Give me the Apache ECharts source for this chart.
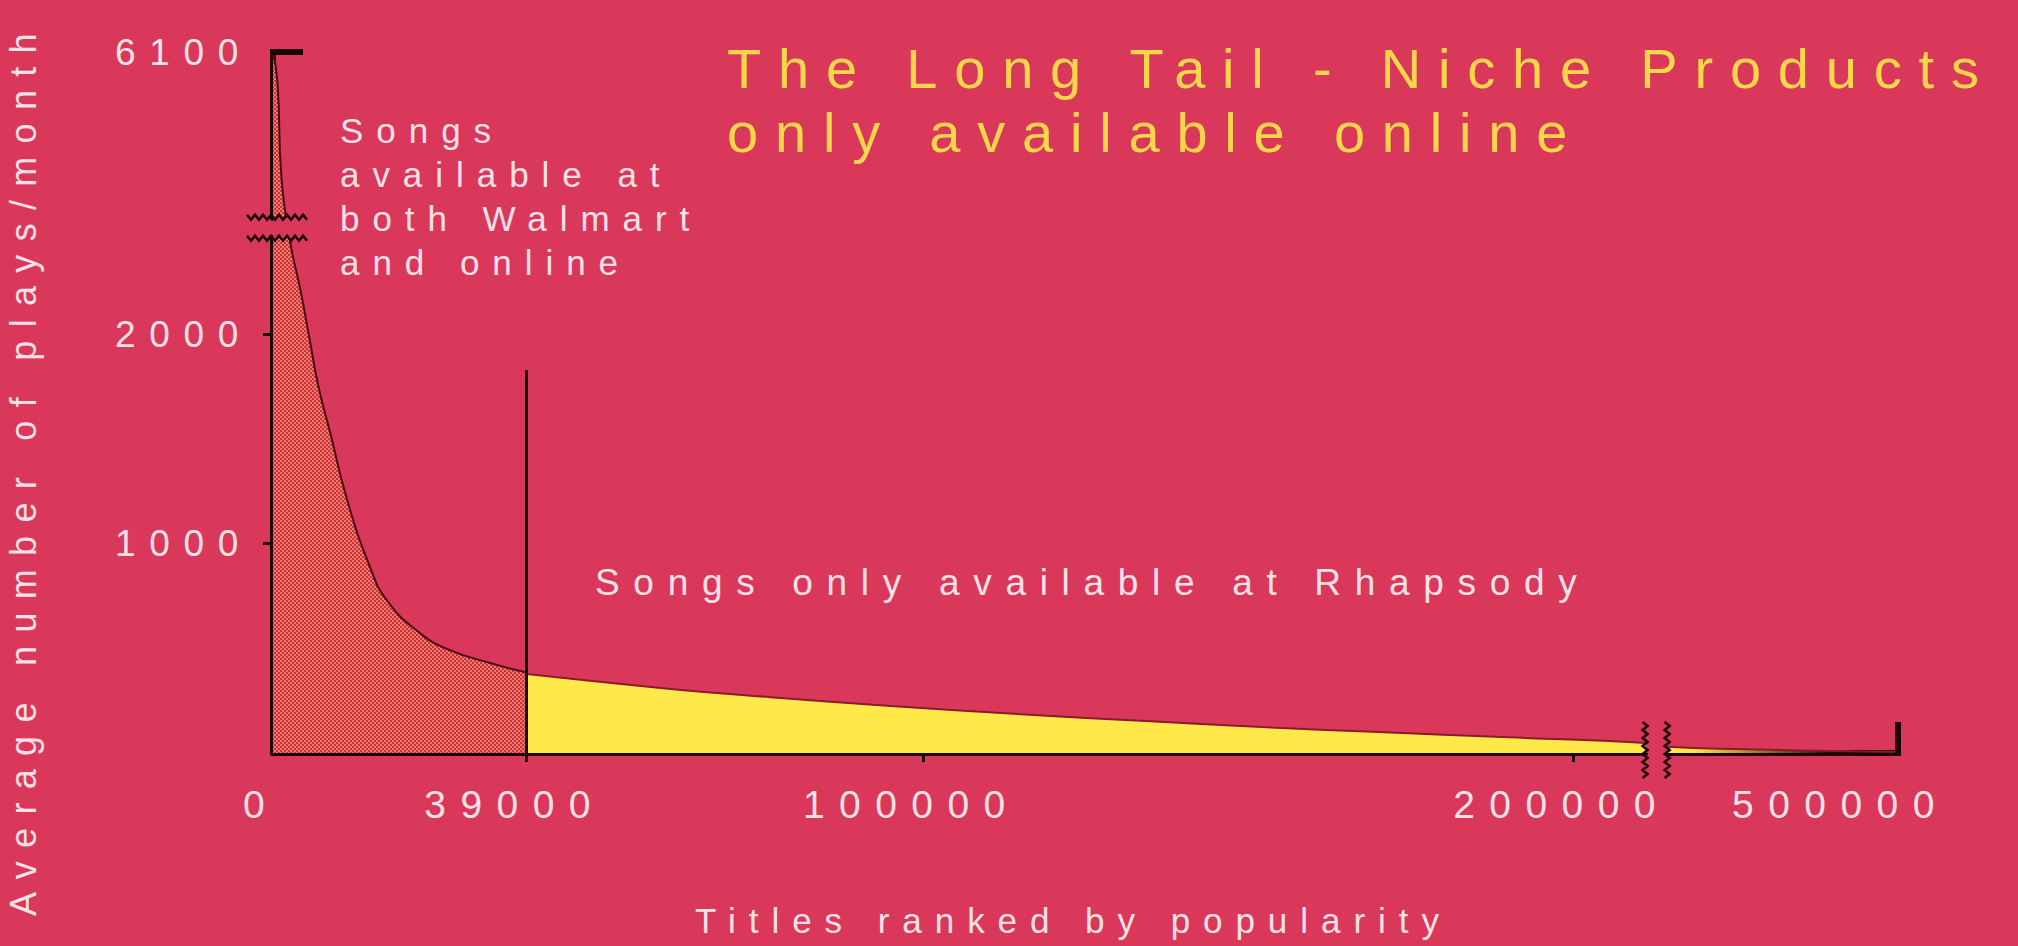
<!DOCTYPE html>
<html>
<head>
<meta charset="utf-8">
<script src="https://cdn.jsdelivr.net/npm/echarts@6/dist/echarts.min.js"></script>
<style>
html,body{margin:0;padding:0;background:#d9385a;overflow:hidden;}
#chart{width:2018px;height:946px;}
#chart text{letter-spacing:0.37em;}
#chart text[style*="56px"]{letter-spacing:0.3em;}
</style>
</head>
<body>
<div id="chart"></div>
<script>
// ---- data ----
const rankHead  = [0, 700, 1300, 2600, 4300, 5500, 7000, 8800, 11400, 14900, 17500, 22600, 27200, 33400, 39000];
const playsHead = [6100, 5950, 5500, 2450, 2200, 2000, 1750, 1530, 1210, 890, 730, 573, 492, 430, 385];
const rankTail  = [39000, 60000, 76500, 95000, 115000, 135000, 152000, 170000, 190000, 211000, 471500, 484000, 500000, 507000];
const playsTail = [377, 310, 267, 225, 185, 152, 124, 100, 75, 48, 30, 18, 8, 5];
const xLabelValues = [0, 39000, 100000, 200000, 500000];
const xTickValues = [39000, 100000, 200000];
const yLabelValues = [1000, 2000, 6100];
const yTickValues = [1000, 2000];
const xBreak = {start: 211000, end: 471500, gap: 3400};
const yBreak = {start: 2460, end: 5310, gap: 100};
const xMax = 507000;
const yMax = 6100;
const dividerRank = 39000;
const dividerTop = 1830;
const titleLines = ['The Long Tail - Niche Products', 'only available online'];
const noteHead = ['Songs', 'available at', 'both Walmart', 'and online'];
const noteTail = 'Songs only available at Rhapsody';
const xName = 'Titles ranked by popularity';
const yName = 'Average number of plays/month';

// ---- styles ----
const BG = '#d9385a';
const INK = '#1a0507';
const PALE = '#fbe1e7';
const GOLD = '#f7d64c';
const FONT = '"Liberation Sans", Arial, sans-serif';

const pat = document.createElement('canvas');
pat.width = 4; pat.height = 4;
const pc = pat.getContext('2d');
pc.fillStyle = '#c8323f'; pc.fillRect(0, 0, 4, 4);
pc.fillStyle = '#f47a68'; pc.fillRect(0, 0, 2, 2); pc.fillRect(2, 2, 2, 2);

const chart = echarts.init(document.getElementById('chart'), null, {renderer: 'svg'});

chart.setOption({
  animation: false,
  backgroundColor: BG,
  grid: {left: 273, right: 120, top: 52, bottom: 193, containLabel: false, outerBoundsMode: 'none'},
  xAxis: {
    type: 'value', min: 0, max: xMax,
    breaks: [xBreak],
    breakArea: {show: true, expandOnClick: false, zigzagAmplitude: 0,
      itemStyle: {color: BG, borderWidth: 0, opacity: 1}},
    axisLine: {show: true, onZero: false, lineStyle: {color: INK, width: 6}},
    axisTick: {show: true, customValues: xTickValues, length: 9, lineStyle: {color: INK, width: 3}},
    axisLabel: {show: true, customValues: xLabelValues, margin: 32, color: PALE, fontSize: 39, fontFamily: FONT,
      padding: [0, 24, 0, 0], formatter: v => String(v)},
    splitLine: {show: false}
  },
  yAxis: {
    type: 'value', min: 0, max: yMax,
    breaks: [yBreak],
    breakArea: {show: true, expandOnClick: false, zigzagAmplitude: 0,
      itemStyle: {color: BG, borderWidth: 0, opacity: 1}},
    axisLine: {show: true, onZero: false, lineStyle: {color: INK, width: 6}},
    axisTick: {show: true, customValues: yTickValues, length: 10, lineStyle: {color: INK, width: 3}},
    axisLabel: {show: true, customValues: yLabelValues, margin: 21, color: PALE, fontSize: 37, fontFamily: FONT,
      formatter: v => String(v)},
    splitLine: {show: false}
  },
  series: [
    {
      type: 'line', name: 'head', z: 3,
      data: rankHead.map((r, i) => [r, playsHead[i]]),
      smooth: true, symbol: 'none',
      lineStyle: {color: '#4a0c16', width: 2},
      areaStyle: {color: {image: pat, repeat: 'repeat', imageWidth: 4, imageHeight: 4}, opacity: 1},
      markLine: {
        symbol: 'none', silent: true, label: {show: false},
        lineStyle: {color: INK, width: 3, type: 'solid'},
        data: [[{coord: [dividerRank, 0]}, {coord: [dividerRank, dividerTop]}]]
      }
    },
    {
      type: 'line', name: 'tail', z: 2,
      data: rankTail.map((r, i) => [r, playsTail[i]]),
      smooth: true, symbol: 'none',
      lineStyle: {color: '#8a1a2c', width: 2},
      areaStyle: {opacity: 1, color: {type: 'linear', x: 0, y: 0, x2: 1, y2: 0, colorStops: [
        {offset: 0, color: '#ffe94a'}, {offset: 0.85, color: '#ffe94a'}, {offset: 0.95, color: '#2a1008'}, {offset: 1, color: '#1a0507'}]}}
    }
  ]
});

function px(v) { return chart.convertToPixel({gridIndex: 0}, v); }
function zig(x0, y0, len, horiz, amp, step) {
  const pts = [];
  let k = 0;
  for (let t = 0; t <= len; t += step / 2, k++) {
    const o = (k % 2 ? amp : -amp);
    pts.push(horiz ? [x0 + t, y0 + o] : [x0 + o, y0 + t]);
  }
  return pts;
}

const origin = px([0, 0]);
const topPt = px([0, yMax]);
const endPt = px([xMax, 0]);
const yb1 = px([0, yBreak.end]);
const yb2 = px([0, yBreak.start]);
const xb1 = px([xBreak.start, 0]);
const xb2 = px([xBreak.end, 0]);
const txt = {fontFamily: FONT, fill: PALE};

chart.setOption({
  graphic: [
    {type: 'line', z: 100, shape: {x1: topPt[0] - 3, y1: topPt[1], x2: topPt[0] + 30, y2: topPt[1]}, style: {stroke: INK, lineWidth: 6}},
    {type: 'line', z: 100, shape: {x1: endPt[0], y1: endPt[1] + 3, x2: endPt[0], y2: endPt[1] - 31}, style: {stroke: INK, lineWidth: 6}},
    {type: 'polyline', z: 100, shape: {points: zig(origin[0] - 26, yb1[1], 60, true, 2.5, 8)}, style: {stroke: INK, lineWidth: 2.5, fill: null}},
    {type: 'polyline', z: 100, shape: {points: zig(origin[0] - 26, yb2[1], 60, true, 2.5, 8)}, style: {stroke: INK, lineWidth: 2.5, fill: null}},
    {type: 'polyline', z: 100, shape: {points: zig(xb1[0], origin[1] - 31, 56, false, 2.5, 8)}, style: {stroke: INK, lineWidth: 2.5, fill: null}},
    {type: 'polyline', z: 100, shape: {points: zig(xb2[0], origin[1] - 31, 56, false, 2.5, 8)}, style: {stroke: INK, lineWidth: 2.5, fill: null}},
    {type: 'text', z: 1000, left: 727, top: 36, style: {text: titleLines.join('\n'), fontSize: 56, lineHeight: 64, fontFamily: FONT, fill: GOLD}},
    {type: 'text', z: 100, left: 340, top: 108, style: Object.assign({text: noteHead.join('\n'), fontSize: 35, lineHeight: 44}, txt)},
    {type: 'text', z: 100, left: 595, top: 564, style: Object.assign({text: noteTail, fontSize: 37, lineHeight: 37}, txt)},
    {type: 'text', z: 100, left: 695, top: 903, style: Object.assign({text: xName, fontSize: 35, lineHeight: 35}, txt)},
    {type: 'text', z: 100, x: 23, y: 468, rotation: Math.PI / 2,
      style: Object.assign({text: yName, fontSize: 36, align: 'center', verticalAlign: 'middle'}, txt)}
  ]
});
</script>
</body>
</html>
